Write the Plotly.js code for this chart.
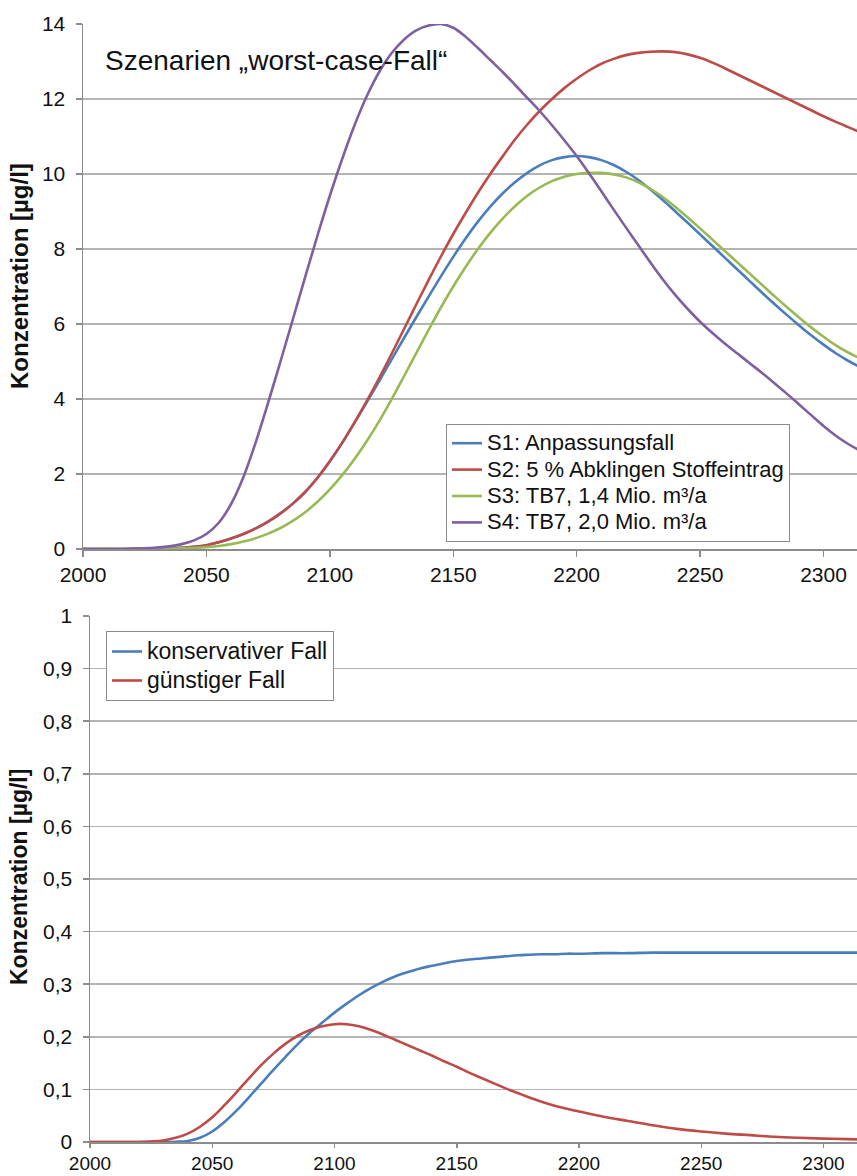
<!DOCTYPE html>
<html>
<head>
<meta charset="utf-8">
<script src="https://cdn.plot.ly/plotly-3.0.1.min.js"></script>
<style>html,body{margin:0;padding:0;background:#fff;}#chart{width:857px;height:1176px;}</style>
</head>
<body>
<div id="chart"></div>
<script>
// ---- top chart data ----
const topYears = [2000,2005,2010,2015,2020,2025,2030,2035,2040,2045,
  2050,2055,2060,2065,2070,2075,2080,2085,2090,2095,
  2100,2105,2110,2115,2120,2125,2130,2135,2140,2145,
  2150,2155,2160,2165,2170,2175,2180,2185,2190,2195,
  2200,2205,2210,2215,2220,2225,2230,2235,2240,2245,
  2250,2255,2260,2265,2270,2275,2280,2285,2290,2295,
  2300,2305,2310,2314];
const s1 = [0,0,0,0,0,0.005,0.01,0.02,0.035,0.06,
  0.1,0.18,0.28,0.4,0.55,0.73,0.95,1.21,1.52,1.9,
  2.34,2.83,3.37,3.92,4.48,5.05,5.62,6.18,6.73,7.27,
  7.79,8.28,8.73,9.13,9.48,9.78,10.03,10.23,10.37,10.45,
  10.48,10.45,10.37,10.24,10.06,9.84,9.58,9.3,9.0,8.7,
  8.39,8.08,7.77,7.46,7.15,6.84,6.54,6.25,5.97,5.7,
  5.45,5.22,5.02,4.88];
const s2 = [0,0,0,0,0,0.005,0.01,0.02,0.035,0.06,
  0.1,0.18,0.28,0.4,0.55,0.73,0.95,1.21,1.52,1.9,
  2.34,2.83,3.37,3.95,4.56,5.2,5.86,6.52,7.17,7.8,
  8.4,8.96,9.5,10.0,10.47,10.92,11.32,11.68,12.0,12.29,
  12.54,12.76,12.94,13.07,13.17,13.23,13.26,13.27,13.25,13.19,
  13.1,12.97,12.82,12.66,12.5,12.34,12.18,12.02,11.86,11.7,
  11.54,11.39,11.25,11.14];
const s3 = [0,0,0,0,0,0,0.005,0.01,0.02,0.03,
  0.05,0.08,0.13,0.2,0.29,0.41,0.56,0.75,0.98,1.26,
  1.59,1.97,2.4,2.88,3.41,3.99,4.6,5.22,5.84,6.44,
  7.0,7.52,8.0,8.43,8.81,9.14,9.42,9.64,9.81,9.93,
  10.0,10.03,10.03,9.99,9.91,9.78,9.6,9.38,9.12,8.84,
  8.55,8.25,7.95,7.65,7.35,7.05,6.75,6.46,6.18,5.91,
  5.66,5.43,5.24,5.11];
const s4 = [0,0,0,0,0.01,0.02,0.04,0.07,0.13,0.23,
  0.4,0.7,1.2,1.92,2.85,3.9,5.0,6.12,7.25,8.36,
  9.42,10.4,11.3,12.08,12.72,13.22,13.58,13.83,13.96,14.0,
  13.9,13.66,13.36,13.04,12.72,12.38,12.03,11.68,11.3,10.9,
  10.48,10.02,9.54,9.05,8.57,8.1,7.63,7.18,6.77,6.4,
  6.06,5.76,5.48,5.22,4.96,4.7,4.43,4.15,3.86,3.57,
  3.28,3.02,2.8,2.65];
const topNames = ["S1: Anpassungsfall","S2: 5 % Abklingen Stoffeintrag","S3: TB7, 1,4 Mio. m³/a","S4: TB7, 2,0 Mio. m³/a"];
const topTickVals = [0,2,4,6,8,10,12,14];
const topTickText = ["0","2","4","6","8","10","12","14"];

// ---- bottom chart data ----
const botYears = [2000,2010,2020,2025,2030,2035,2040,2045,2050,2055,2060,2065,2070,2075,2080,2085,2090,2095,
  2100,2105,2110,2115,2120,2125,2130,2135,2140,2145,2150,2155,2160,2165,2170,2175,2180,2185,2190,2195,2200,
  2210,2220,2230,2240,2250,2260,2270,2280,2290,2300,2310,2314];
const konservativ = [0,0,0,0,0,0.0005,0.002,0.008,0.02,0.038,0.06,0.085,0.111,0.137,0.162,0.186,0.208,0.227,
  0.246,0.263,0.279,0.293,0.305,0.315,0.323,0.33,0.335,0.34,0.344,0.347,0.349,0.351,0.353,0.355,0.356,0.357,0.357,0.358,0.358,
  0.359,0.359,0.36,0.36,0.36,0.36,0.36,0.36,0.36,0.36,0.36,0.36];
const guenstig = [0,0,0,0.001,0.003,0.008,0.016,0.029,0.047,0.07,0.095,0.121,0.146,0.168,0.187,0.202,0.213,0.22,
  0.224,0.224,0.22,0.213,0.204,0.194,0.184,0.174,0.164,0.153,0.143,0.132,0.122,0.112,0.102,0.093,0.084,0.076,0.069,0.063,0.058,
  0.048,0.04,0.032,0.025,0.02,0.016,0.013,0.01,0.008,0.0065,0.0055,0.005];
const botNames = ["konservativer Fall","günstiger Fall"];
const botTickVals = [0,0.1,0.2,0.3,0.4,0.5,0.6,0.7,0.8,0.9,1];
const botTickText = ["0","0,1","0,2","0,3","0,4","0,5","0,6","0,7","0,8","0,9","1"];

const xTickVals = [2000,2050,2100,2150,2200,2250,2300];
const xTickText = ["2000","2050","2100","2150","2200","2250","2300"];

const colors = {blue:"#4a7ebb", red:"#be4b48", green:"#98b954", purple:"#7d60a0"};
const FONT = "Liberation Sans, Arial, sans-serif";

const lineStyle = c => ({color:c, width:2.6, shape:"spline", smoothing:1});
const big = (t, px) => '<span style="font-size:' + px + 'px">' + t + '</span>';

const traces = [
  {x:topYears, y:s1, name:big(topNames[0],22), mode:"lines", line:lineStyle(colors.blue), xaxis:"x", yaxis:"y", legend:"legend"},
  {x:topYears, y:s2, name:big(topNames[1],22), mode:"lines", line:lineStyle(colors.red), xaxis:"x", yaxis:"y", legend:"legend"},
  {x:topYears, y:s3, name:big(topNames[2],22), mode:"lines", line:lineStyle(colors.green), xaxis:"x", yaxis:"y", legend:"legend"},
  {x:topYears, y:s4, name:big(topNames[3],22), mode:"lines", line:lineStyle(colors.purple), xaxis:"x", yaxis:"y", legend:"legend"},
  {x:botYears, y:konservativ, name:big(botNames[0],23), mode:"lines", line:lineStyle(colors.blue), xaxis:"x2", yaxis:"y2", legend:"legend2"},
  {x:botYears, y:guenstig, name:big(botNames[1],23), mode:"lines", line:lineStyle(colors.red), xaxis:"x2", yaxis:"y2", legend:"legend2"}
];

const W = 857, H = 1176;
const gridC = "#b4b4b4", axC = "#8c8c8c";
const tickFont = {family:FONT, size:21, color:"#111"};

function xAxis(domainLeftPx, yAnchor, fsize, tlen) {
  return {
    domain:[domainLeftPx/W, 1], anchor:yAnchor,
    range:[2000, 2000 + (W-domainLeftPx)/((823.5-domainLeftPx)/300)],
    tickvals:xTickVals, ticktext:xTickText,
    showgrid:false, zeroline:false,
    showline:true, linecolor:axC, linewidth:1.5,
    ticks:"outside", ticklen:tlen, tickcolor:axC, tickwidth:1.5,
    tickfont:{family:FONT, size:fsize, color:"#111"}, fixedrange:true
  };
}
function yAxis(topPx, botPx, rng, tv, tt, xAnchor) {
  return {
    domain:[(H-botPx)/H, (H-topPx)/H], anchor:xAnchor,
    range:rng, tickvals:tv, ticktext:tt,
    showgrid:true, gridcolor:gridC, gridwidth:1.5,
    zeroline:false, showline:true, linecolor:axC, linewidth:1.5,
    ticks:"outside", ticklen:6, tickcolor:axC, tickwidth:1.5,
    ticklabelstandoff:6,
    tickfont:tickFont, fixedrange:true
  };
}

const layout = {
  width:W, height:H,
  margin:{l:0, r:0, t:0, b:0, pad:0},
  paper_bgcolor:"#fff", plot_bgcolor:"#fff",
  font:{family:FONT, size:18, color:"#111"},
  showlegend:true,
  xaxis: xAxis(83, "y", 21, 6),
  yaxis: yAxis(24, 549, [0,14], topTickVals, topTickText, "x"),
  xaxis2: xAxis(90, "y2", 19, 4),
  yaxis2: yAxis(616, 1142, [0,1], botTickVals, botTickText, "x2"),
  legend:{x:446/W, y:(H-424)/H, xanchor:"left", yanchor:"top",
    bgcolor:"#fff", bordercolor:"#8c8c8c", borderwidth:1,
    font:{family:FONT, size:18, color:"#111"}, tracegroupgap:0, itemwidth:30},
  legend2:{x:106/W, y:(H-631)/H, xanchor:"left", yanchor:"top",
    bgcolor:"#fff", bordercolor:"#8c8c8c", borderwidth:1,
    font:{family:FONT, size:20, color:"#111"}, tracegroupgap:0, itemwidth:30},
  annotations:[
    {text:"Szenarien „worst-case-Fall“", xref:"paper", yref:"paper",
     x:103/W, y:(H-61)/H, xanchor:"left", yanchor:"middle", showarrow:false,
     font:{family:FONT, size:28, color:"#111"}},
    {text:"<b>Konzentration [µg/l]</b>", xref:"paper", yref:"paper",
     x:19/W, y:(H-276)/H, xanchor:"center", yanchor:"middle", textangle:-90, showarrow:false,
     font:{family:FONT, size:24, color:"#111"}},
    {text:"<b>Konzentration [µg/l]</b>", xref:"paper", yref:"paper",
     x:19/W, y:(H-877)/H, xanchor:"center", yanchor:"middle", textangle:-90, showarrow:false,
     font:{family:FONT, size:23, color:"#111"}}
  ]
};

Plotly.newPlot("chart", traces, layout, {staticPlot:true, displayModeBar:false});
</script>
</body>
</html>
